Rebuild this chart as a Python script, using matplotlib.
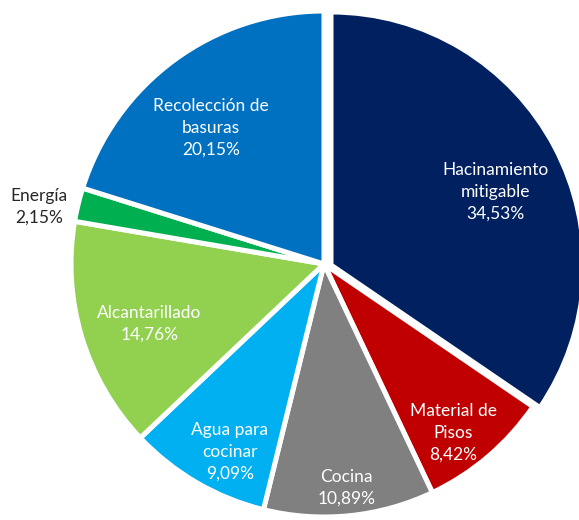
import numpy as np
import matplotlib.pyplot as plt

labels = ["Hacinamiento\nmitigable", "Material de\nPisos", "Cocina",
          "Agua para\ncocinar", "Alcantarillado", "Energía",
          "Recolección de\nbasuras"]
values = [34.53, 8.42, 10.89, 9.09, 14.76, 2.15, 20.15]
colors = ["#002060", "#C00000", "#808080", "#00B0F0", "#92D050", "#00B050", "#0070C0"]
text_colors = ["white", "white", "white", "white", "white", "#262626", "white"]
# label placement: fraction of radius and small angle tweak (deg)
label_r = [0.71, 0.84, 0.89, 0.83, 0.73, 1.15, 0.70]
label_da = [-3.8, -3.0, 0.0, 3.6, 2.0, 2.3, 3.5]

plt.rcParams['font.family'] = ['Lato', 'DejaVu Sans']

fig = plt.figure(figsize=(5.79, 5.2), dpi=100)
ax = fig.add_axes([0, 0, 1, 1])

cx, cy, R = 324, 256, 253
wedges, _ = ax.pie(values, colors=colors, startangle=90, counterclock=False,
                   center=(cx, cy), radius=R,
                   wedgeprops=dict(edgecolor="white", linewidth=3.6))

# first slice pulled out a bit to the right
shift = (7, -1)
wedges[0].set_center((cx + shift[0], cy + shift[1]))

for i, w in enumerate(wedges):
    mid = np.deg2rad((w.theta1 + w.theta2) / 2 + label_da[i])
    x0, y0 = w.center
    x = x0 + label_r[i] * R * np.cos(mid)
    y = y0 + label_r[i] * R * np.sin(mid)
    pct = f"{values[i]:.2f}%".replace(".", ",")
    ax.text(x, y, f"{labels[i]}\n{pct}", ha="center", va="center",
            color=text_colors[i], fontsize=12.5, linespacing=1.45)

ax.set_xlim(0, 579)
ax.set_ylim(0, 520)
ax.axis("off")

fig.savefig("out.png", dpi=100)
